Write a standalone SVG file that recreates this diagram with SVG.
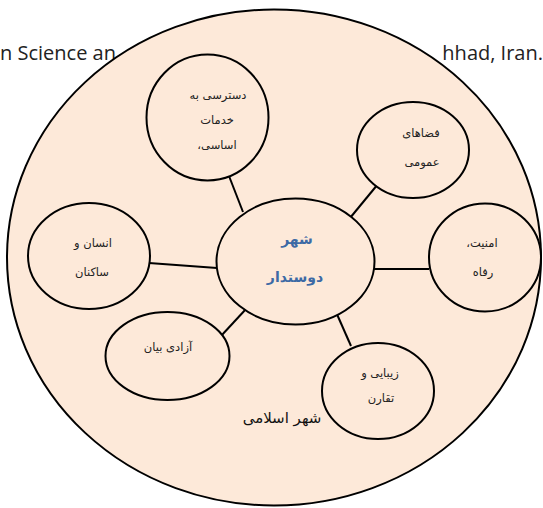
<svg xmlns="http://www.w3.org/2000/svg" width="543" height="508" viewBox="0 0 543 508">
<style>
.hdr{font-family:"Open Sans","DejaVu Sans",sans-serif;font-size:20px;fill:#222}
.outer{fill:#FDE9D9;stroke:#000;stroke-width:2}
.node{fill:#FDE9D9;stroke:#000;stroke-width:2}
.lbl{font-family:"DejaVu Sans",sans-serif;font-size:11.5px;fill:#222;text-anchor:middle;dominant-baseline:middle;direction:rtl}
.ctr{font-family:"DejaVu Sans",sans-serif;font-size:14px;font-weight:bold;fill:#3D6AA5;text-anchor:middle;dominant-baseline:middle;direction:rtl}
.big{font-family:"DejaVu Sans",sans-serif;font-size:15px;fill:#111;text-anchor:middle;dominant-baseline:middle;direction:rtl}
.conn line{stroke:#000;stroke-width:2}
</style>
<rect width="543" height="508" fill="#fff"/>
<text class="hdr" x="0" y="60">n Science an</text>
<text class="hdr" x="543" y="60" text-anchor="end">hhad, Iran.</text>
<g id="outer-city">
<ellipse class="outer" cx="274" cy="257.5" rx="267" ry="248"/>
<text class="big" x="282" y="418">شهر اسلامی</text>
</g>
<g id="connectors" class="conn">
<line x1="229" y1="176" x2="243" y2="212"/>
<line x1="378" y1="184" x2="350" y2="218"/>
<line x1="149" y1="263" x2="217" y2="268"/>
<line x1="373" y1="269" x2="429" y2="269"/>
<line x1="246" y1="309" x2="221" y2="336"/>
<line x1="336" y1="312" x2="351" y2="346"/>
</g>
<g id="node-services">
<ellipse class="node" cx="207.5" cy="117.5" rx="61" ry="63"/>
<text class="lbl" x="218" y="95">دسترسی به</text>
<text class="lbl" x="217" y="120">خدمات</text>
<text class="lbl" x="217" y="145">اساسی،</text>
</g>
<g id="node-public">
<ellipse class="node" cx="413" cy="150" rx="56" ry="48"/>
<text class="lbl" x="421" y="133">فضاهای</text>
<text class="lbl" x="422" y="162">عمومی</text>
</g>
<g id="node-people">
<ellipse class="node" cx="89" cy="256" rx="61" ry="53"/>
<text class="lbl" x="93" y="243">انسان و</text>
<text class="lbl" x="92" y="272">ساکنان</text>
</g>
<g id="node-center">
<ellipse class="node" cx="295.5" cy="261.5" rx="79" ry="63"/>
<text class="ctr" x="297" y="240">شهر</text>
<text class="ctr" x="295" y="278">دوستدار</text>
</g>
<g id="node-security">
<ellipse class="node" cx="485" cy="257.5" rx="56" ry="54"/>
<text class="lbl" x="482" y="243">امنیت،</text>
<text class="lbl" x="483" y="272">رفاه</text>
</g>
<g id="node-freedom">
<ellipse class="node" cx="167.5" cy="356" rx="62" ry="44"/>
<text class="lbl" x="168" y="347">آزادی بیان</text>
</g>
<g id="node-beauty">
<ellipse class="node" cx="378" cy="391" rx="56" ry="48"/>
<text class="lbl" x="380" y="373">زیبایی و</text>
<text class="lbl" x="381" y="398">تقارن</text>
</g>
</svg>
